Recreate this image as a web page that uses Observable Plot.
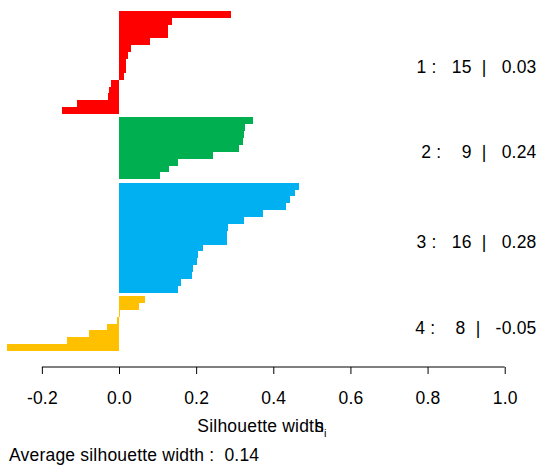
<!DOCTYPE html>
<html><head><meta charset="utf-8">
<script src="https://cdn.jsdelivr.net/npm/d3@7"></script>
<script src="https://cdn.jsdelivr.net/npm/@observablehq/plot@0.6"></script>
<style>
body{margin:0;background:#fff;font-family:"Liberation Sans",Arial,Helvetica,sans-serif;}
#wrap{position:relative;width:542px;height:476px;overflow:hidden;background:#fff;}
.t{position:absolute;font-size:17.5px;line-height:17px;letter-spacing:0.2px;color:#000;white-space:pre;}
svg text{letter-spacing:0.2px;}
</style></head><body>
<div id="wrap"></div>
<script>
// ---- data ----
const clusterIds = [1, 2, 3, 4];
const clusterSizes = [15, 9, 16, 8];
const clusterAvg = ["0.03", "0.24", "0.28", "-0.05"];
const clusterColors = ["#FF0000", "#00B050", "#00B0F0", "#FFC000"];
const sil1 = [0.290, 0.137, 0.127, 0.127, 0.080, 0.031, 0.023, 0.018, 0.018, 0.013, -0.021, -0.026, -0.029, -0.109, -0.148];
const sil2 = [0.348, 0.327, 0.324, 0.322, 0.311, 0.244, 0.153, 0.130, 0.106];
const sil3 = [0.467, 0.456, 0.443, 0.433, 0.373, 0.324, 0.283, 0.280, 0.280, 0.218, 0.205, 0.202, 0.192, 0.189, 0.161, 0.153];
const sil4 = [0.067, 0.052, 0.003, -0.005, -0.031, -0.078, -0.135, -0.290];
const xTicks = [-0.2, 0.0, 0.2, 0.4, 0.6, 0.8, 1.0];
const avgWidth = "0.14";

// ---- build rows (bar index with 0.5 gap between clusters, like R barplot space) ----
const sils = [sil1, sil2, sil3, sil4];
const rows = [];
const labels = [];
let pos = 0;
const nb = "\u00a0";
sils.forEach((arr, k) => {
  const start = pos;
  arr.forEach(s => { rows.push({s, y1: pos, y2: pos + 1, color: clusterColors[k]}); pos += 1; });
  const nStr = String(clusterSizes[k]).padStart(2, nb);
  labels.push({yc: (start + pos) / 2,
    text: `${clusterIds[k]}${nb}:${nb}${nb}${nb}${nStr}${nb}${nb}|${nb}${nb}${nb}${clusterAvg[k]}`});
  if (k < sils.length - 1) pos += 0.5;
});
const total = pos;

const W = 542, H = 410, mT = 11, mB = 43;
const plot = Plot.plot({
  width: W, height: H,
  marginLeft: 3.3, marginRight: 18, marginTop: mT, marginBottom: mB,
  style: {fontFamily: '"Liberation Sans", Arial, sans-serif', background: "#fff", color: "#000"},
  x: {domain: [-0.3, 1.05], axis: null},
  y: {domain: [0, total], reverse: true, insetBottom: 16, axis: null},
  color: {type: "identity"},
  marks: [
    Plot.rectX(rows, {x1: 0, x2: "s", y1: "y1", y2: "y2", fill: "color", shapeRendering: "crispEdges"}),
    Plot.text(labels, {y: "yc", text: "text", frameAnchor: "right", dx: 12, dy: 4, textAnchor: "end", fontSize: 17.5, fill: "#000"}),
    Plot.axisX(xTicks, {anchor: "bottom", label: null, tickSize: 7, tickPadding: 17, fontSize: 17.5, tickFormat: d => d.toFixed(1), stroke: "#000", fill: "#000"})
  ]
});
const sx = plot.scale("x");
const yb = H - mB;
d3.select(plot).append("line")
  .attr("x1", sx.apply(xTicks[0])).attr("x2", sx.apply(xTicks[xTicks.length - 1]))
  .attr("y1", yb).attr("y2", yb).attr("stroke", "#000").attr("stroke-width", 1);

const wrap = document.getElementById("wrap");
wrap.appendChild(plot);

const title = document.createElement("div");
title.className = "t";
title.style.left = "262px"; title.style.top = "418px"; title.style.transform = "translateX(-50%)";
title.innerHTML = 'Silhouette width<span style="margin-left:-0.52em">s</span><span style="font-size:11px;position:relative;top:5px">i</span>';
wrap.appendChild(title);

const cap = document.createElement("div");
cap.className = "t";
cap.style.left = "9px"; cap.style.top = "447px";
cap.textContent = "Average silhouette width :" + nb + nb + avgWidth;
wrap.appendChild(cap);
</script>
</body></html>
